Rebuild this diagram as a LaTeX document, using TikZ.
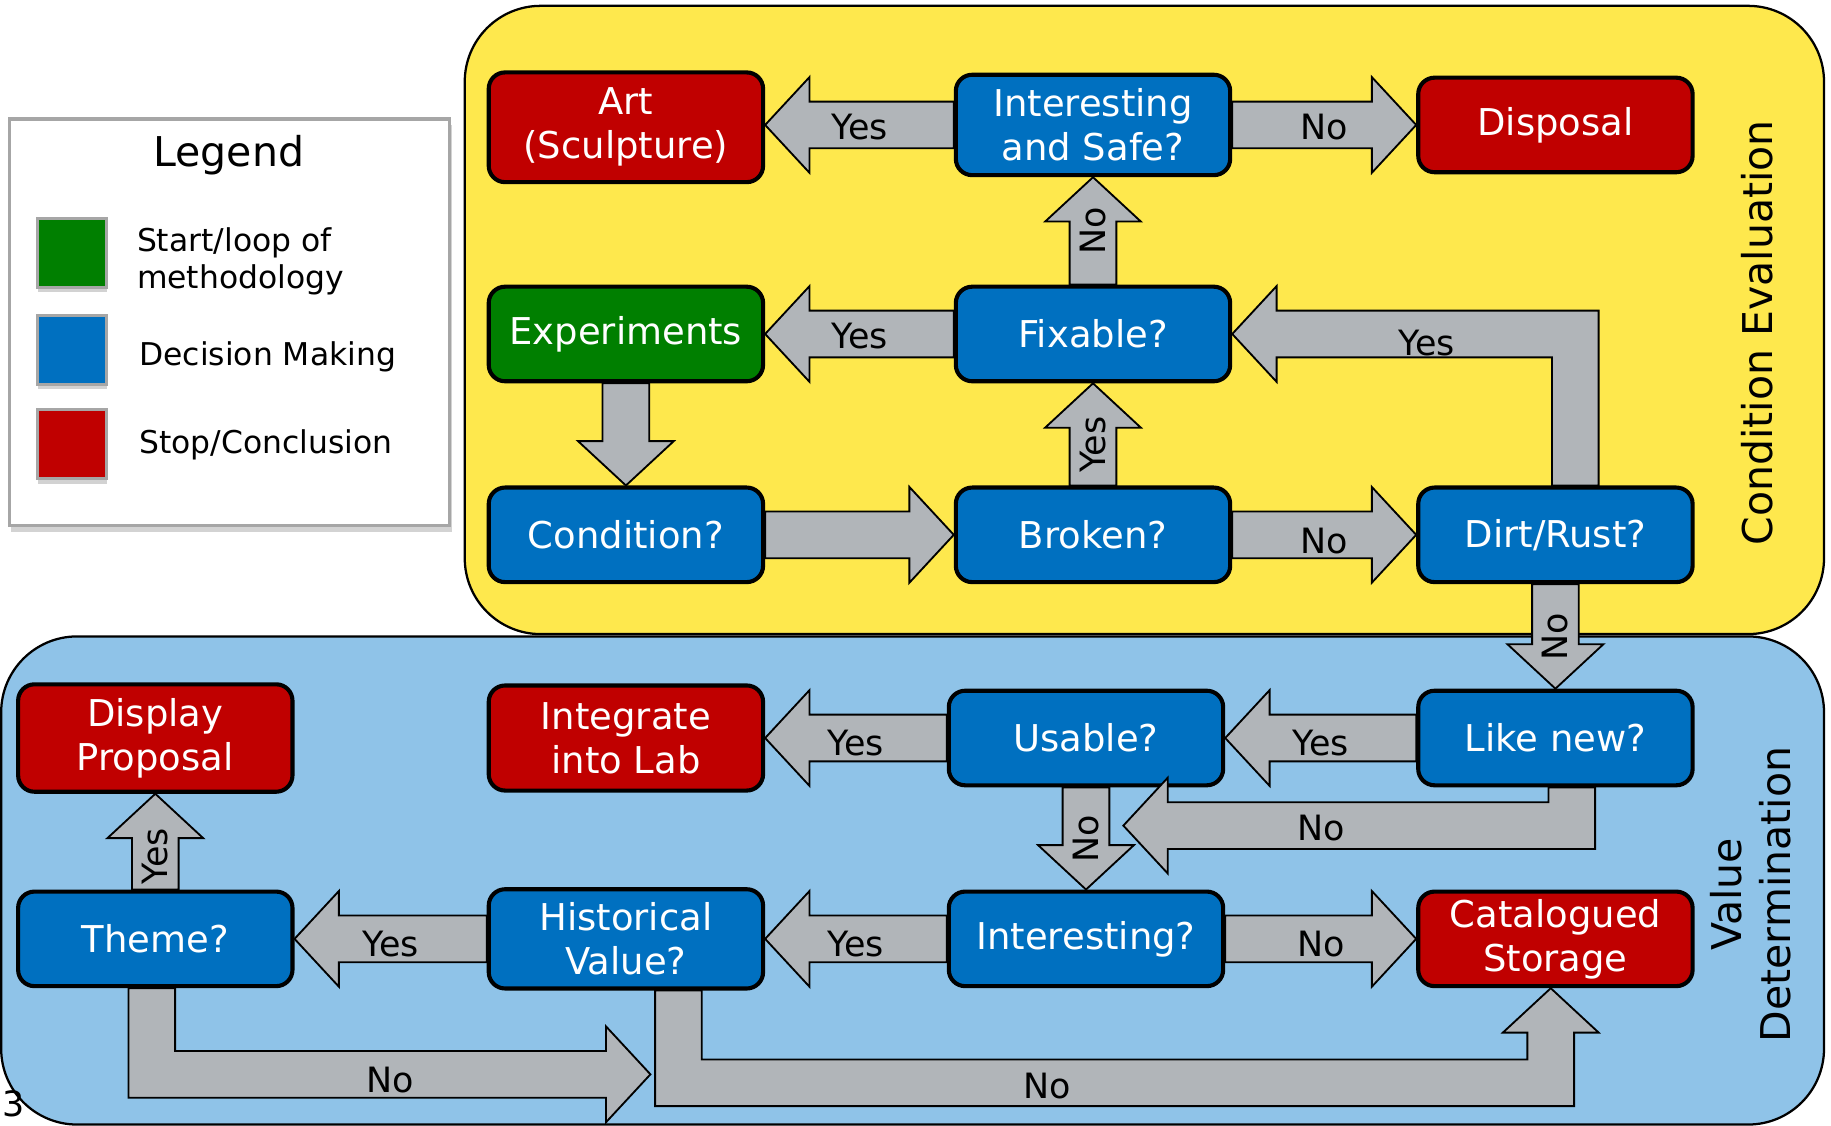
\documentclass[tikz,border=0pt]{standalone}
\usepackage{fontspec}
\setmainfont{DejaVu Sans}
\setsansfont{DejaVu Sans}
\usetikzlibrary{calc}
\usetikzlibrary{shadows}

\definecolor{conditionYellow}{HTML}{FEE84D}
\definecolor{valueBlue}{HTML}{8FC3E8}
\definecolor{arrowGray}{HTML}{B1B5B9}
\definecolor{decisionBlue}{HTML}{0070C0}
\definecolor{stopRed}{HTML}{C00000}
\definecolor{startGreen}{HTML}{007F00}
\definecolor{legendGray}{HTML}{A6A6A6}

% straight block arrow from #1 to #2
\newcommand{\blockArrow}[2]{%
	\path ($(#2)!0.76cm!(#1)$) coordinate (headBase);
	\draw[ArrowStyle] ($(#1)!0.4cm!90:(#2)$) -- ($(headBase)!0.4cm!90:(#2)$) -- ($(headBase)!0.82cm!90:(#2)$) -- (#2) -- ($(headBase)!0.82cm!-90:(#2)$) -- ($(headBase)!0.4cm!-90:(#2)$) -- ($(#1)!0.4cm!-90:(#2)$) -- cycle;
}

\begin{document}
\begin{tikzpicture}[x = 0.02cm, y = -0.02cm, font=\sffamily]
	\tikzstyle{BoxStyle}=[draw, line width = 2pt, rounded corners = 0.28cm, minimum width = 4.7cm, minimum height = 1.62cm, inner sep = 2pt, align = center, text = white, font = \fontsize{18}{21.5}\selectfont]
	\tikzstyle{decisionStyle}=[BoxStyle, fill = decisionBlue]
	\tikzstyle{stopStyle}=[BoxStyle, fill = stopRed]
	\tikzstyle{startStyle}=[BoxStyle, fill = startGreen]
	\tikzstyle{ArrowStyle}=[draw, fill = arrowGray, line width = 0.9pt, line join = miter]
	\tikzstyle{answerStyle}=[inner sep = 0pt, font = \fontsize{17}{20}\selectfont]
	\tikzstyle{regionStyle}=[draw, line width = 1.1pt, rounded corners = 1.3cm]
	\tikzstyle{titleStyle}=[font = \fontsize{20}{24}\selectfont]
	\tikzstyle{keyStyle}=[draw = legendGray, line width = 1.5pt, minimum size = 1.18cm, inner sep = 0pt, drop shadow = {shadow xshift = 0.5pt, shadow yshift = -2.5pt, opacity = 0.35}]
	\tikzstyle{keyText}=[anchor = west, inner sep = 0pt, align = left, font = \fontsize{15.3}{18.2}\selectfont]
	\useasboundingbox (0,0) rectangle (1568,964);

	% regions
	\draw[regionStyle, fill = valueBlue] (1,545) rectangle (1562,963);
	\draw[regionStyle, fill = conditionYellow] (398,5) rectangle (1562,543);
	\node[titleStyle, rotate = 90] (condTitle) at (1505,285) {Condition Evaluation};
	\node[titleStyle, rotate = 90, align = center] (valueTitle) at (1499,766) {Value\\Determination};

	% legend
	\node[draw = legendGray, line width = 1.7pt, fill = white, minimum width = 7.54cm, minimum height = 6.96cm, drop shadow = {shadow xshift = 1pt, shadow yshift = -3pt, opacity = 0.35}] (legend) at (196.5,276) {};
	\node[titleStyle] (legendTitle) at (196,133) {Legend};
	\node[keyStyle, fill = startGreen] (keyStart) at (61.5,216.5) {};
	\node[keyStyle, fill = decisionBlue] (keyDecision) at (61.5,299.5) {};
	\node[keyStyle, fill = stopRed] (keyStop) at (61.5,380.5) {};
	\node[keyText] (txtStart) at (117,224) {Start/loop of\\methodology};
	\node[keyText] (txtDecision) at (119,306) {Decision Making};
	\node[keyText] (txtStop) at (119,381) {Stop/Conclusion};

	% condition evaluation
	\node[stopStyle, minimum height = 1.88cm] (art) at (536,109) {Art\\(Sculpture)};
	\node[decisionStyle, minimum height = 1.72cm] (safe) at (936,107) {Interesting\\and Safe?};
	\node[stopStyle] (disposal) at (1332,107) {Disposal};
	\node[startStyle] (experiments) at (536,286) {Experiments};
	\node[decisionStyle] (fixable) at (936,286) {Fixable?};
	\node[decisionStyle] (condition) at (536,458) {Condition?};
	\node[decisionStyle] (broken) at (936,458) {Broken?};
	\node[decisionStyle] (dirt) at (1332,458) {Dirt/Rust?};

	% value determination
	\node[stopStyle, minimum height = 1.84cm] (display) at (133,632) {Display\\Proposal};
	\node[stopStyle, minimum height = 1.8cm] (integrate) at (536,632) {Integrate\\into Lab};
	\node[decisionStyle] (usable) at (930,632) {Usable?};
	\node[decisionStyle] (likenew) at (1332,632) {Like new?};
	\node[decisionStyle] (theme) at (133,804) {Theme?};
	\node[decisionStyle, minimum height = 1.7cm] (historical) at (536,804) {Historical\\Value?};
	\node[decisionStyle] (interesting) at (930,804) {Interesting?};
	\node[stopStyle] (storage) at (1332,804) {Catalogued\\Storage};

	% straight arrows
	\blockArrow{safe.west}{art.east |- safe.west}
	\blockArrow{safe.east}{disposal.west}
	\blockArrow{fixable.north}{safe.south}
	\blockArrow{fixable.west}{experiments.east}
	\blockArrow{experiments.south}{condition.north}
	\blockArrow{condition.east}{broken.west}
	\blockArrow{broken.north}{fixable.south}
	\blockArrow{broken.east}{dirt.west}
	\blockArrow{dirt.south}{likenew.north}
	\blockArrow{likenew.west}{usable.east}
	\blockArrow{usable.west}{integrate.east}
	\blockArrow{usable.south}{interesting.north}
	\blockArrow{interesting.west}{historical.east}
	\blockArrow{interesting.east}{storage.west}
	\blockArrow{historical.west}{theme.east}
	\blockArrow{theme.north}{display.south}

	% bent arrows
	\coordinate (yesCorner) at (dirt.north |- fixable.east);
	\draw[ArrowStyle] ($(dirt.north)+(37,0)$) -- ($(yesCorner)+(37,-20)$) -- ($(fixable.east)+(38,-20)$) -- ($(fixable.east)+(38,-41)$) -- (fixable.east) -- ($(fixable.east)+(38,41)$) -- ($(fixable.east)+(38,20)$) -- ($(yesCorner)+(-3,20)$) -- ($(dirt.north)+(-3,0)$) -- cycle;
	\coordinate (noTip) at (962,707);
	\coordinate (noCorner) at (likenew.south |- noTip);
	\draw[ArrowStyle] ($(likenew.south)+(34,0)$) -- ($(noCorner)+(34,20)$) -- ($(noTip)+(38,20)$) -- ($(noTip)+(38,41)$) -- (noTip) -- ($(noTip)+(38,-41)$) -- ($(noTip)+(38,-20)$) -- ($(noCorner)+(-6,-20)$) -- ($(likenew.south)+(-6,0)$) -- cycle;
	\coordinate (themeTip) at (557,920);
	\coordinate (themeCorner) at (theme.south |- themeTip);
	\draw[ArrowStyle] ($(theme.south)+(-23,0)$) -- ($(themeCorner)+(-23,20)$) -- ($(themeTip)+(-38,20)$) -- ($(themeTip)+(-38,41)$) -- (themeTip) -- ($(themeTip)+(-38,-41)$) -- ($(themeTip)+(-38,-20)$) -- ($(themeCorner)+(17,-20)$) -- ($(theme.south)+(17,0)$) -- cycle;
	\coordinate (histCorner) at ($(historical.south)+(45,79)$);
	\coordinate (storeCorner) at ($(storage.south |- histCorner)+(-4,0)$);
	\coordinate (storeTip) at ($(storage.south)+(-4,0)$);
	\draw[ArrowStyle] ($(historical.south)+(25,0)$) -- ($(histCorner)+(-20,20)$) -- ($(storeCorner)+(20,20)$) -- ($(storeTip)+(20,38)$) -- ($(storeTip)+(41,38)$) -- (storeTip) -- ($(storeTip)+(-41,38)$) -- ($(storeTip)+(-20,38)$) -- ($(storeCorner)+(-20,-20)$) -- ($(histCorner)+(20,-20)$) -- ($(historical.south)+(65,0)$) -- cycle;

	% answers
	\node[answerStyle] (yesArt) at ($(safe.west)!0.5!(art.east |- safe.west)+(0,2)$) {Yes};
	\node[answerStyle] (noDisposal) at ($(safe.east)!0.5!(disposal.west)+(0,2)$) {No};
	\node[answerStyle, rotate = 90] (noSafe) at ($(fixable.north)!0.5!(safe.south)$) {No};
	\node[answerStyle] (yesExperiments) at ($(fixable.west)!0.5!(experiments.east)+(0,2)$) {Yes};
	\node[answerStyle, rotate = 90] (yesFixable) at ($(broken.north)!0.4!(fixable.south)$) {Yes};
	\node[answerStyle] (noDirt) at ($(broken.east)!0.5!(dirt.west)+(0,5)$) {No};
	\node[answerStyle] (yesDirt) at (1222,294) {Yes};
	\node[answerStyle, rotate = 90] (noLikenew) at ($(dirt.south)!0.5!(likenew.north)$) {No};
	\node[answerStyle] (yesUsable) at ($(likenew.west)!0.5!(usable.east)+(0,4)$) {Yes};
	\node[answerStyle] (yesIntegrate) at ($(usable.west)!0.5!(integrate.east)+(0,4)$) {Yes};
	\node[answerStyle] (noLike) at (1131,709) {No};
	\node[answerStyle, rotate = 90] (noUsable) at ($(usable.south)!0.5!(interesting.north)$) {No};
	\node[answerStyle] (yesHistorical) at ($(interesting.west)!0.5!(historical.east)+(0,4)$) {Yes};
	\node[answerStyle] (noStorage) at ($(interesting.east)!0.5!(storage.west)+(0,4)$) {No};
	\node[answerStyle] (yesTheme) at ($(historical.west)!0.5!(theme.east)+(0,4)$) {Yes};
	\node[answerStyle, rotate = 90] (yesDisplay) at ($(theme.north)!0.35!(display.south)$) {Yes};
	\node[answerStyle] (noTheme) at (334,925) {No};
	\node[answerStyle] (noHist) at (897,930) {No};
	\node[answerStyle, anchor = west] (pageNum) at (2,945) {3};
\end{tikzpicture}
\end{document}
